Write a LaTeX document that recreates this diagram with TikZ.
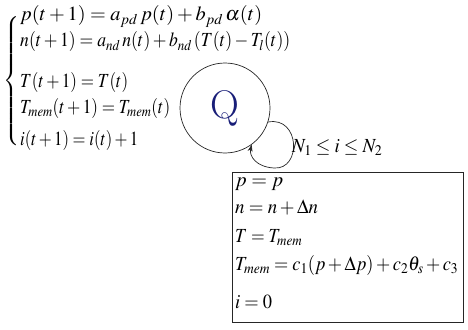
\documentclass[tikz,border=0pt]{standalone}
\usepackage{mathptmx}
\usetikzlibrary{arrows.meta}

\definecolor{qnavy}{RGB}{25,30,120}
% formula set to a given width
\newcommand{\fitq}[2]{\resizebox{#1}{\height}{$#2$}}

\begin{document}
\begin{tikzpicture}[x=1pt, y=-1pt,
    eqn/.style={anchor=base west, inner sep=0pt, font=\fontsize{20}{24}\selectfont},
    thinline/.style={line width=0.7pt, black!85}]
    \useasboundingbox (0,0) rectangle (468,329);

    % Difference equations of the state
    \node[inner sep=0pt, font=\fontsize{18}{22}\selectfont] (brace) at (12,81)
        {$\left\{\vrule height 60pt depth 60pt width 0pt\right.$};
    \node[eqn] (eqp) at (20,21) {\fitq{242pt}{p(t+1)=a_{pd}\,p(t)+b_{pd}\,\alpha(t)}};
    \node[eqn] (eqn) at (20,47) {\fitq{270pt}{n(t+1)=a_{nd}\,n(t)+b_{nd}\,(T(t)-T_l(t))}};
    \node[eqn] (eqT) at (20,87) {\fitq{108pt}{T(t+1)=T(t)}};
    \node[eqn] (eqm) at (20,113) {\fitq{150pt}{T_{mem}(t+1)=T_{mem}(t)}};
    \node[eqn] (eqi) at (20,145) {\fitq{118pt}{i(t+1)=i(t)+1}};

    % State Q with self loop
    \node[circle, draw, thinline, minimum size=90pt, inner sep=0pt] (Q) at (225,108) {};
    \node[qnavy, font=\fontsize{40}{40}\selectfont] (Qlbl) at (Q.center) {Q};
    \draw[thinline, -{Stealth[length=7pt, width=5pt]}]
        (Q.-18) .. controls (300,116) and (302,170) .. (274,168)
        .. controls (256,167) and (249,156) .. (Q.-54);
    \node[eqn] (cond) at (292,152) {\fitq{90pt}{N_1\le i\le N_2}};

    % Reset on leaving the loop
    \node[draw, thinline, anchor=north west, minimum width=231pt, minimum height=150pt,
          inner sep=0pt] (upd) at (232,172) {};
    \node[eqn] (upp) at (235,186) {\fitq{48pt}{p=p}};
    \node[eqn] (upn) at (235,213) {\fitq{83pt}{n=n+\Delta n}};
    \node[eqn] (upT) at (235,242) {\fitq{67pt}{T=T_{mem}}};
    \node[eqn] (upm) at (235,270) {\fitq{223pt}{T_{mem}=c_1(p+\Delta p)+c_2\theta_s+c_3}};
    \node[eqn] (upi) at (235,308) {\fitq{37pt}{i=0}};
\end{tikzpicture}
\end{document}
